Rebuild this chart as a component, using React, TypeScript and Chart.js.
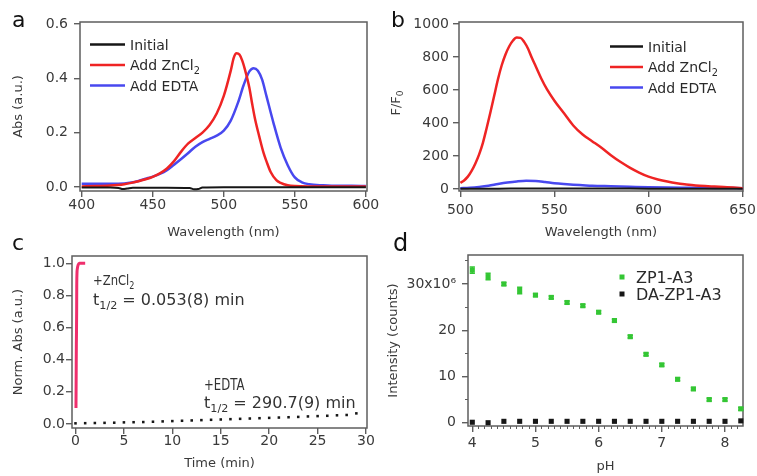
import React, { useEffect, useRef } from 'react';
import { Chart, registerables } from 'chart.js';

Chart.register(...registerables);

const W = 757;
const H = 476;
const SANS = "'DejaVu Sans', 'Liberation Sans', sans-serif";
const AXIS = '#5e5e5e';
const LABEL = '#3a3a3a';
const RED = '#ef2424';
const BLUE = '#4848ef';
const BLACK = '#161616';
const PINK = '#ef2f6d';
const GREEN = '#34c634';
const TICK_SIZE = 14;
const TITLE_SIZE = 13;

// ---------- Panel a : absorbance ----------
const absTicksX = [400, 450, 500, 550, 600];
const absTicksY = [0, 0.2, 0.4, 0.6];
const absInitialWl = [400, 420, 426, 429, 432, 436, 460, 476, 479, 482, 485, 500, 550, 600];
const absInitial = [-0.002, -0.002, -0.004, -0.008, -0.006, -0.003, -0.003, -0.004, -0.009, -0.008, -0.002, -0.001, -0.001, -0.001];
const absZnWl = [400, 410, 420, 425, 430, 435, 440, 445, 450, 455, 460, 465, 470, 475, 480, 485, 490, 495, 500, 505, 507, 509, 511, 513, 515, 518, 520, 522, 525, 528, 530, 533, 537, 540, 545, 550, 560, 580, 600];
const absZn = [0.002, 0.003, 0.005, 0.007, 0.01, 0.015, 0.021, 0.028, 0.037, 0.05, 0.068, 0.095, 0.13, 0.16, 0.18, 0.2, 0.228, 0.27, 0.335, 0.43, 0.475, 0.492, 0.487, 0.465, 0.43, 0.365, 0.305, 0.25, 0.185, 0.125, 0.095, 0.055, 0.025, 0.015, 0.006, 0.003, 0.002, 0.002, 0.002];
const absEdtaWl = [400, 410, 420, 430, 435, 440, 445, 450, 455, 460, 465, 470, 475, 480, 485, 490, 495, 500, 505, 510, 514, 518, 521, 524, 527, 530, 535, 540, 545, 550, 555, 560, 570, 580, 590, 600];
const absEdta = [0.012, 0.012, 0.012, 0.013, 0.016, 0.022, 0.03, 0.038, 0.048, 0.062, 0.082, 0.103, 0.125, 0.148, 0.165, 0.177, 0.189, 0.207, 0.245, 0.31, 0.375, 0.425, 0.437, 0.428, 0.395, 0.335, 0.235, 0.145, 0.08, 0.035, 0.017, 0.01, 0.006, 0.004, 0.004, 0.003];

// ---------- Panel b : fluorescence ----------
const flTicksX = [500, 550, 600, 650];
const flTicksY = [0, 200, 400, 600, 800, 1000];
const flInitialWl = [500, 520, 540, 560, 580, 600, 620, 650];
const flInitial = [1, 2, 3, 3, 3, 2, 2, 1];
const flZnWl = [500, 502, 504, 506, 508, 510, 512, 514, 516, 518, 520, 522, 524, 526, 528, 530, 532, 534, 536, 538, 540, 543, 546, 550, 555, 560, 565, 570, 575, 580, 585, 590, 595, 600, 605, 610, 615, 620, 625, 630, 635, 640, 645, 650];
const flZn = [38, 52, 75, 110, 155, 210, 280, 370, 465, 565, 665, 750, 815, 865, 900, 918, 916, 890, 850, 795, 745, 670, 605, 535, 460, 385, 330, 290, 250, 205, 165, 130, 100, 75, 58, 45, 35, 28, 22, 18, 15, 12, 9, 5];
const flEdtaWl = [500, 505, 510, 515, 520, 525, 530, 535, 540, 545, 550, 555, 560, 565, 570, 580, 590, 600, 610, 620, 630, 640, 650];
const flEdta = [5, 8, 13, 20, 30, 39, 46, 50, 48, 42, 35, 30, 26, 23, 20, 17, 14, 11, 9, 8, 7, 6, 5];

// ---------- Panel c : kinetics ----------
const kinTicksX = [0, 5, 10, 15, 20, 25, 30];
const kinTicksY = [0, 0.2, 0.4, 0.6, 0.8, 1.0];
const kinZnTime = [0.05, 0.07, 0.09, 0.1, 0.12, 0.13, 0.15, 0.2, 0.28, 0.4, 0.6, 0.8, 1.0];
const kinZnAbs = [0.1, 0.3, 0.5, 0.55, 0.7, 0.85, 0.93, 0.97, 0.99, 1.0, 1.0, 1.0, 1.0];
const kinEdtaTime = [0, 1, 2, 3, 4, 5, 6, 7, 8, 9, 10, 11, 12, 13, 14, 15, 16, 17, 18, 19, 20, 21, 22, 23, 24, 25, 26, 27, 28, 29];
const kinEdtaAbs = [0.004, 0.005, 0.006, 0.007, 0.008, 0.01, 0.011, 0.012, 0.014, 0.016, 0.018, 0.02, 0.022, 0.024, 0.026, 0.028, 0.03, 0.032, 0.034, 0.036, 0.038, 0.04, 0.042, 0.044, 0.047, 0.049, 0.051, 0.054, 0.056, 0.066];

// ---------- Panel d : pH profile ----------
const phTicksX = [4, 5, 6, 7, 8];
const phTicksY = [0, 10, 20, 30];
const phValues = [4, 4.25, 4.5, 4.75, 5, 5.25, 5.5, 5.75, 6, 6.25, 6.5, 6.75, 7, 7.25, 7.5, 7.75, 8, 8.25];
const zp1Intensity = [33.0, 31.6, 30.0, 28.6, 27.6, 27.1, 26.0, 25.3, 23.9, 22.1, 18.6, 14.8, 12.5, 9.4, 7.3, 5.0, 5.0, 3.0];
const zp1Error = [0.7, 0.7, 0.3, 0.7, 0.3, 0.3, 0.3, 0.3, 0.3, 0.3, 0.3, 0.3, 0.3, 0.3, 0.3, 0.3, 0.3, 0.3];
const daIntensity = [0.1, 0.0, 0.3, 0.3, 0.3, 0.3, 0.3, 0.3, 0.3, 0.3, 0.3, 0.3, 0.3, 0.3, 0.3, 0.3, 0.3, 0.4];

type Seg = { t: string; s?: 'sub' | 'sup' };
type Item =
  | { kind: 'text'; x: number; y: number; segs: Seg[]; size: number; color?: string; squeeze?: number; rotate?: boolean }
  | { kind: 'line'; x1: number; y1: number; x2: number; y2: number; color: string; width: number }
  | { kind: 'mark'; x: number; y: number; side: number; color: string };

function pts(xs: number[], ys: number[]) {
  return xs.map((x, i) => ({ x, y: ys[i] }));
}

function segWidth(ctx: CanvasRenderingContext2D, segs: Seg[], size: number) {
  let w = 0;
  for (const s of segs) {
    ctx.font = `${s.s ? size * 0.7 : size}px ${SANS}`;
    w += ctx.measureText(s.t).width;
  }
  return w;
}

function drawSegs(ctx: CanvasRenderingContext2D, x0: number, y0: number, segs: Seg[], size: number) {
  let cx = x0;
  for (const s of segs) {
    const sz = s.s ? size * 0.7 : size;
    const dy = s.s === 'sub' ? size * 0.28 : s.s === 'sup' ? -size * 0.42 : 0;
    ctx.font = `${sz}px ${SANS}`;
    ctx.fillText(s.t, cx, y0 + dy);
    cx += ctx.measureText(s.t).width;
  }
}

function makeDeco(items: Item[]) {
  return {
    id: 'deco',
    beforeDatasetsDraw(chart: any) {
      const { ctx, chartArea: a } = chart;
      ctx.save();
      ctx.strokeStyle = AXIS;
      ctx.lineWidth = 1.5;
      ctx.strokeRect(a.left, a.top, a.right - a.left, a.bottom - a.top);
      ctx.restore();
    },
    afterDatasetsDraw(chart: any) {
      const ctx = chart.ctx;
      chart.data.datasets.forEach((ds: any, i: number) => {
        if (!ds.errorBars) return;
        const meta = chart.getDatasetMeta(i);
        const ys = chart.scales[meta.yAxisID];
        ctx.save();
        ctx.strokeStyle = ds.pointBackgroundColor;
        ctx.lineWidth = 1.5;
        meta.data.forEach((el: any, j: number) => {
          const v = ds.data[j].y;
          const e = ds.errorBars[j];
          const y1 = ys.getPixelForValue(v + e);
          const y2 = ys.getPixelForValue(v - e);
          ctx.beginPath();
          ctx.moveTo(el.x, y1);
          ctx.lineTo(el.x, y2);
          ctx.moveTo(el.x - 2.6, y1);
          ctx.lineTo(el.x + 2.6, y1);
          ctx.moveTo(el.x - 2.6, y2);
          ctx.lineTo(el.x + 2.6, y2);
          ctx.stroke();
        });
        ctx.restore();
      });
    },
    afterDraw(chart: any) {
      const ctx: CanvasRenderingContext2D = chart.ctx;
      for (const it of items) {
        ctx.save();
        if (it.kind === 'line') {
          ctx.strokeStyle = it.color;
          ctx.lineWidth = it.width;
          ctx.beginPath();
          ctx.moveTo(it.x1, it.y1);
          ctx.lineTo(it.x2, it.y2);
          ctx.stroke();
        } else if (it.kind === 'mark') {
          ctx.fillStyle = it.color;
          ctx.fillRect(it.x - it.side / 2, it.y - it.side / 2, it.side, it.side);
        } else {
          ctx.fillStyle = it.color || LABEL;
          ctx.textAlign = 'left';
          ctx.textBaseline = 'alphabetic';
          if (it.rotate) {
            const w = segWidth(ctx, it.segs, it.size);
            ctx.translate(it.x, it.y);
            ctx.rotate(-Math.PI / 2);
            drawSegs(ctx, -w / 2, it.size * 0.36, it.segs, it.size);
          } else {
            ctx.translate(it.x, it.y);
            ctx.scale(it.squeeze || 1, 1);
            drawSegs(ctx, 0, 0, it.segs, it.size);
          }
        }
        ctx.restore();
      }
    },
  };
}

type Geo = {
  l: number; t: number; r: number; b: number;
  yTitleX: number; xTitleY: number; yLabelRight: number; xLabelCenter: number; tickLen: number;
  xMin: number; xMax: number; yMin: number; yMax: number;
  xTicks: number[]; yTicks: number[];
  xFmt: (v: number) => string; yFmt: (v: number) => string;
  xTitle: string; yTitle: string; yTitleCustom?: boolean;
  minorX?: number; minorY?: number;
};

function zeroPad(s: any) {
  s.paddingLeft = 0;
  s.paddingRight = 0;
  s.paddingTop = 0;
  s.paddingBottom = 0;
}

function makeOptions(g: Geo) {
  const lh = TITLE_SIZE * 1.2;
  const yLeft = g.yTitleX - 8;
  const xBottom = g.xTitleY + 8;
  const tickFont = { family: SANS, size: TICK_SIZE, lineHeight: 1 };
  const grid = (len: number, lw: number) => ({
    display: true, drawOnChartArea: false, drawTicks: true, tickLength: len, color: AXIS, lineWidth: lw,
  });
  const scales: any = {
    x: {
      type: 'linear', position: 'bottom', min: g.xMin, max: g.xMax,
      afterBuildTicks: (s: any) => { s.ticks = g.xTicks.map((v) => ({ value: v })); },
      afterFit: (s: any) => { s.height = xBottom - g.b; zeroPad(s); },
      grid: grid(g.tickLen, 1.4),
      border: { display: false },
      ticks: {
        color: LABEL, font: tickFont, autoSkip: false, maxRotation: 0,
        padding: g.xLabelCenter - g.b - g.tickLen - TICK_SIZE / 2,
        callback: (v: any) => g.xFmt(Number(v)),
      },
      title: {
        display: true, text: g.xTitle, color: LABEL, font: { family: SANS, size: TITLE_SIZE },
        padding: { top: 0, bottom: Math.max(0, 8 - lh / 2) },
      },
    },
    y: {
      type: 'linear', position: 'left', min: g.yMin, max: g.yMax,
      afterBuildTicks: (s: any) => { s.ticks = g.yTicks.map((v) => ({ value: v })); },
      afterFit: (s: any) => { s.width = g.l - yLeft; zeroPad(s); },
      grid: grid(g.tickLen, 1.4),
      border: { display: false },
      ticks: {
        color: LABEL, font: tickFont, autoSkip: false,
        padding: g.l - g.yLabelRight - g.tickLen,
        callback: (v: any) => g.yFmt(Number(v)),
      },
      title: {
        display: !g.yTitleCustom, text: g.yTitle, color: LABEL, font: { family: SANS, size: TITLE_SIZE },
        padding: { top: Math.max(0, 8 - lh / 2), bottom: 0 },
      },
    },
  };
  if (g.minorX) {
    scales.xMinor = {
      type: 'linear', position: 'bottom', min: g.xMin, max: g.xMax, weight: -1,
      afterFit: (s: any) => { s.height = 0; zeroPad(s); },
      grid: grid(3, 1),
      border: { display: false },
      ticks: { display: false, stepSize: g.minorX, maxTicksLimit: 500, includeBounds: false },
    };
  }
  if (g.minorY) {
    scales.yMinor = {
      type: 'linear', position: 'left', min: g.yMin, max: g.yMax, weight: -1,
      afterFit: (s: any) => { s.width = 0; zeroPad(s); },
      grid: grid(3, 1),
      border: { display: false },
      ticks: { display: false, stepSize: g.minorY, maxTicksLimit: 500, includeBounds: false },
    };
  }
  return {
    responsive: false,
    animation: false,
    events: [],
    layout: { padding: { left: yLeft, top: g.t, right: W - g.r, bottom: H - xBottom } },
    plugins: { legend: { display: false }, tooltip: { enabled: false }, title: { display: false } },
    scales,
  };
}

function lineSet(xs: number[], ys: number[], color: string, width: number) {
  return {
    data: pts(xs, ys), borderColor: color, borderWidth: width, pointRadius: 0,
    cubicInterpolationMode: 'monotone', fill: false, xAxisID: 'x', yAxisID: 'y',
  };
}

function pointSet(xs: number[], ys: number[], color: string, radius: number, extra: any = {}) {
  return {
    data: pts(xs, ys), showLine: false, pointStyle: 'rect', pointRadius: radius,
    pointBackgroundColor: color, pointBorderWidth: 0, borderColor: color,
    xAxisID: 'x', yAxisID: 'y', clip: false, ...extra,
  };
}

const f1 = (v: number) => v.toFixed(1);
const f0 = (v: number) => String(v);

function legendRows(x1: number, x2: number, tx: number, ys: number[], size: number): Item[] {
  const rows: { c: string; segs: Seg[] }[] = [
    { c: BLACK, segs: [{ t: 'Initial' }] },
    { c: RED, segs: [{ t: 'Add ZnCl' }, { t: '2', s: 'sub' }] },
    { c: BLUE, segs: [{ t: 'Add EDTA' }] },
  ];
  const out: Item[] = [];
  rows.forEach((r, i) => {
    out.push({ kind: 'line', x1, y1: ys[i], x2, y2: ys[i], color: r.c, width: 2.5 });
    out.push({ kind: 'text', x: tx, y: ys[i] + size * 0.36, segs: r.segs, size, color: '#2a2a2a' });
  });
  return out;
}

const configA = () => ({
  type: 'line',
  data: {
    datasets: [
      lineSet(absInitialWl, absInitial, BLACK, 2),
      lineSet(absZnWl, absZn, RED, 2.5),
      lineSet(absEdtaWl, absEdta, BLUE, 2.5),
    ],
  },
  options: makeOptions({
    l: 80, t: 22, r: 367, b: 191, yTitleX: 19, xTitleY: 233, yLabelRight: 68, xLabelCenter: 205, tickLen: 6,
    xMin: 398.8, xMax: 600.8, yMin: -0.015, yMax: 0.607, xTicks: absTicksX, yTicks: absTicksY,
    xFmt: f0, yFmt: f1, xTitle: 'Wavelength (nm)', yTitle: 'Abs (a.u.)',
  }),
  plugins: [makeDeco([
    { kind: 'text', x: 12, y: 27, segs: [{ t: 'a' }], size: 22, color: '#111' },
    ...legendRows(90, 125, 130, [44.5, 65, 85.5], 14),
  ])],
});

const configB = () => ({
  type: 'line',
  data: {
    datasets: [
      lineSet(flInitialWl, flInitial, BLACK, 2),
      lineSet(flZnWl, flZn, RED, 2.5),
      lineSet(flEdtaWl, flEdta, BLUE, 2.5),
    ],
  },
  options: makeOptions({
    l: 459, t: 22, r: 743, b: 191, yTitleX: 395, xTitleY: 233, yLabelRight: 449, xLabelCenter: 210, tickLen: 6,
    xMin: 499.3, xMax: 650.2, yMin: -12, yMax: 1012, xTicks: flTicksX, yTicks: flTicksY,
    xFmt: f0, yFmt: f0, xTitle: 'Wavelength (nm)', yTitle: 'F/F0', yTitleCustom: true,
  }),
  plugins: [makeDeco([
    { kind: 'text', x: 391, y: 27, segs: [{ t: 'b' }], size: 22, color: '#111' },
    { kind: 'text', x: 395, y: 103, segs: [{ t: 'F/F' }, { t: '0', s: 'sub' }], size: 13, color: LABEL, rotate: true },
    ...legendRows(610, 643, 648, [46.5, 67, 87.5], 14),
  ])],
});

const configC = () => ({
  type: 'line',
  data: {
    datasets: [
      lineSet(kinZnTime, kinZnAbs, PINK, 3),
      pointSet(kinEdtaTime, kinEdtaAbs, BLACK, 1.8),
    ],
  },
  options: makeOptions({
    l: 72, t: 256, r: 367, b: 428, yTitleX: 19, xTitleY: 464, yLabelRight: 65, xLabelCenter: 441, tickLen: 6,
    xMin: -0.36, xMax: 30.1, yMin: -0.025, yMax: 1.045, xTicks: kinTicksX, yTicks: kinTicksY,
    xFmt: f0, yFmt: f1, xTitle: 'Time (min)', yTitle: 'Norm. Abs (a.u.)',
  }),
  plugins: [makeDeco([
    { kind: 'text', x: 12, y: 250, segs: [{ t: 'c' }], size: 22, color: '#111' },
    { kind: 'text', x: 93, y: 285, segs: [{ t: '+ZnCl' }, { t: '2', s: 'sub' }], size: 14.5, color: '#333', squeeze: 0.8 },
    { kind: 'text', x: 93, y: 305, segs: [{ t: 't' }, { t: '1/2', s: 'sub' }, { t: ' = 0.053(8) min' }], size: 16, color: '#333' },
    { kind: 'text', x: 204, y: 390, segs: [{ t: '+EDTA' }], size: 15, color: '#333', squeeze: 0.78 },
    { kind: 'text', x: 204, y: 408, segs: [{ t: 't' }, { t: '1/2', s: 'sub' }, { t: ' = 290.7(9) min' }], size: 16, color: '#333' },
  ])],
});

const configD = () => ({
  type: 'line',
  data: {
    datasets: [
      pointSet(phValues, zp1Intensity, GREEN, 3.6, { errorBars: zp1Error }),
      pointSet(phValues, daIntensity, BLACK, 3.6),
    ],
  },
  options: makeOptions({
    l: 468, t: 255, r: 743, b: 426, yTitleX: 394, xTitleY: 467, yLabelRight: 456, xLabelCenter: 443, tickLen: 6,
    xMin: 3.932, xMax: 8.285, yMin: -0.71, yMax: 36.27, xTicks: phTicksX, yTicks: phTicksY,
    xFmt: f0, yFmt: (v: number) => (v === 30 ? '30x10\u2076' : String(v)),
    xTitle: 'pH', yTitle: 'Intensity (counts)', minorX: 0.1, minorY: 5,
  }),
  plugins: [makeDeco([
    { kind: 'text', x: 393, y: 251, segs: [{ t: 'd' }], size: 24, color: '#111' },
    { kind: 'mark', x: 622, y: 277, side: 5, color: GREEN },
    { kind: 'text', x: 636, y: 282.8, segs: [{ t: 'ZP1-A3' }], size: 16, color: '#2a2a2a' },
    { kind: 'mark', x: 622, y: 294, side: 5, color: BLACK },
    { kind: 'text', x: 636, y: 299.8, segs: [{ t: 'DA-ZP1-A3' }], size: 16, color: '#2a2a2a' },
  ])],
});

function ChartCanvas({ make }: { make: () => any }) {
  const ref = useRef<HTMLCanvasElement>(null);
  useEffect(() => {
    if (!ref.current) return;
    const chart = new Chart(ref.current, make());
    return () => chart.destroy();
  }, [make]);
  return (
    <canvas
      ref={ref}
      width={W}
      height={H}
      style={{ position: 'absolute', left: 0, top: 0, width: W, height: H }}
    />
  );
}

export default function App() {
  return (
    <div style={{ position: 'absolute', left: 0, top: 0, width: W, height: H, background: '#fff', overflow: 'hidden' }}>
      <ChartCanvas make={configA} />
      <ChartCanvas make={configB} />
      <ChartCanvas make={configC} />
      <ChartCanvas make={configD} />
    </div>
  );
}
